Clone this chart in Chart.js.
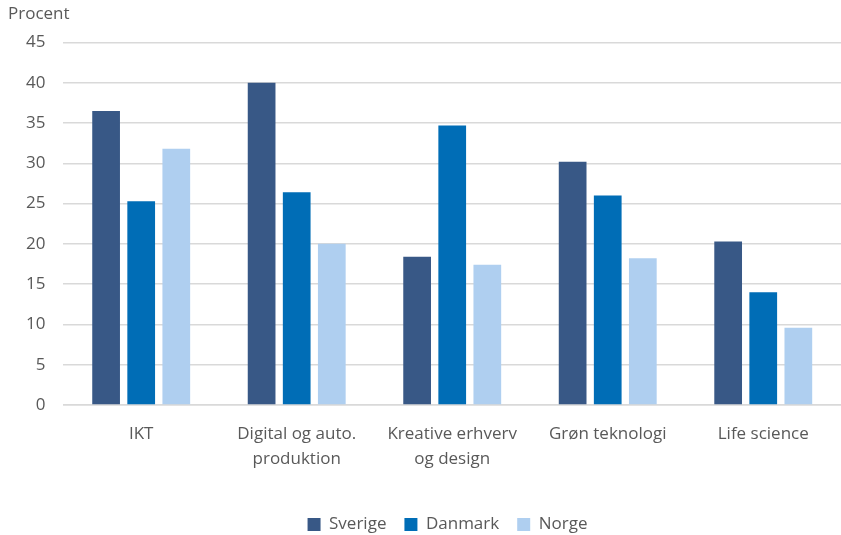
<!DOCTYPE html>
<html lang="da">
<head>
    <meta charset="UTF-8">
    <title>Procent</title>
    <script src="https://cdn.jsdelivr.net/npm/chart.js"></script>
    <style>
        html, body { margin: 0; padding: 0; background: #fff; }
        #wrap { width: 841px; height: 535px; }
    </style>
</head>
<body>
    <div id="wrap"><canvas id="chart" width="841" height="535"></canvas></div>

    <script>
        // categories and values
        const categories = [
            'IKT',
            ['Digital og auto.', 'produktion'],
            ['Kreative erhverv', 'og design'],
            'Grøn teknologi',
            'Life science'
        ];
        const sverige = [36.5, 40.0, 18.4, 30.2, 20.3];
        const danmark = [25.3, 26.4, 34.7, 26.0, 14.0];
        const norge = [31.8, 20.0, 17.4, 18.2, 9.6];
        const yTicks = [0, 5, 10, 15, 20, 25, 30, 35, 40, 45];

        const textColor = '#595959';
        const fontFamily = "'Open Sans', sans-serif";

        // nudge the legend right and down like the original
        const legendShift = {
            id: 'legendShift',
            afterLayout(chart) {
                const lg = chart.legend;
                if (!lg) return;
                lg.left += 46;
                lg.top += 12;
                lg.bottom += 12;
            }
        };

        const ctx = document.getElementById('chart').getContext('2d');
        new Chart(ctx, {
            type: 'bar',
            data: {
                labels: categories,
                datasets: [
                    { label: 'Sverige', data: sverige, backgroundColor: '#385886' },
                    { label: 'Danmark', data: danmark, backgroundColor: '#006db6' },
                    { label: 'Norge', data: norge, backgroundColor: '#afcff0' }
                ]
            },
            options: {
                responsive: false,
                animation: false,
                layout: { padding: { left: 8, right: 0, top: 0, bottom: 4 } },
                datasets: {
                    bar: { categoryPercentage: 0.677, barPercentage: 0.79 }
                },
                scales: {
                    x: {
                        grid: { display: false, drawTicks: false },
                        border: { display: true, color: '#d9d9d9', width: 1.5 },
                        afterFit(axis) { axis.height -= 2; },
                        ticks: {
                            color: textColor,
                            padding: 16,
                            maxRotation: 0,
                            autoSkip: false,
                            font: { family: fontFamily, size: 17, lineHeight: 1.5 }
                        }
                    },
                    y: {
                        min: 0,
                        max: 45,
                        afterBuildTicks(axis) {
                            axis.ticks = yTicks.map(v => ({ value: v }));
                        },
                        grid: { color: '#d9d9d9', lineWidth: 1.5, drawTicks: false },
                        border: { display: false },
                        ticks: {
                            color: textColor,
                            padding: 18,
                            font: { family: fontFamily, size: 17 }
                        }
                    }
                },
                plugins: {
                    title: {
                        display: true,
                        text: 'Procent',
                        align: 'start',
                        color: textColor,
                        font: { family: fontFamily, size: 17, weight: 'normal' },
                        padding: { top: 4, bottom: 18 }
                    },
                    legend: {
                        position: 'bottom',
                        labels: {
                            color: textColor,
                            boxWidth: 13,
                            boxHeight: 13,
                            padding: 18,
                            font: { family: fontFamily, size: 17 }
                        }
                    },
                    tooltip: { enabled: false }
                }
            },
            plugins: [legendShift]
        });
    </script>
</body>
</html>
